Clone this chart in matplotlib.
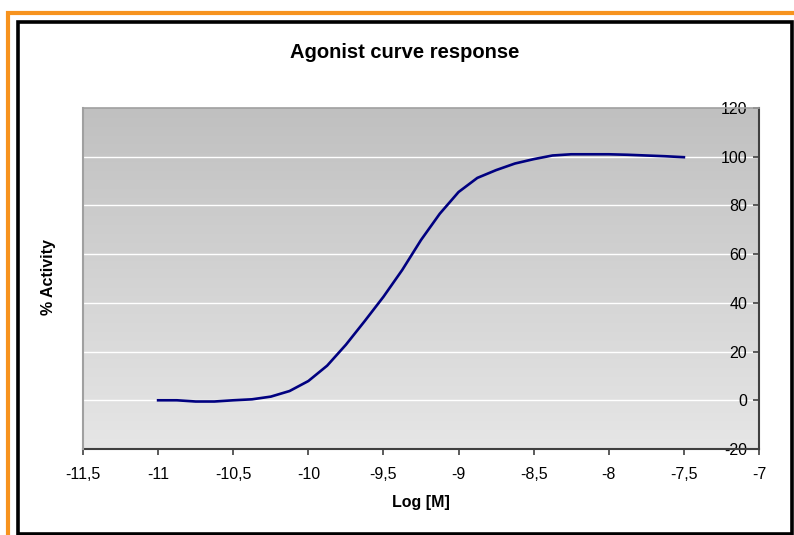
import matplotlib
matplotlib.use("Agg")
from matplotlib import pyplot as plt
from matplotlib.patches import Rectangle
import numpy as np

plt.rcParams['font.family'] = ['Liberation Sans', 'DejaVu Sans']

# data
log_m = [-11.0, -10.875, -10.75, -10.625, -10.5, -10.375, -10.25, -10.125, -10.0,
         -9.875, -9.75, -9.625, -9.5, -9.375, -9.25, -9.125, -9.0, -8.875, -8.75,
         -8.625, -8.5, -8.375, -8.25, -8.125, -8.0, -7.875, -7.75, -7.625, -7.5]
activity = [0.0, 0.0, -0.5, -0.5, 0.0, 0.4, 1.5, 3.8, 7.9,
            14.2, 22.8, 32.5, 42.5, 53.5, 65.8, 76.6, 85.5, 91.3, 94.5,
            97.2, 99.0, 100.5, 101.0, 101.0, 101.0, 100.8, 100.5, 100.2, 99.8]

x_ticks = [-11.5, -11, -10.5, -10, -9.5, -9, -8.5, -8, -7.5, -7]
x_labels = ['-11,5', '-11', '-10,5', '-10', '-9,5', '-9', '-8,5', '-8', '-7,5', '-7']
y_ticks = [-20, 0, 20, 40, 60, 80, 100, 120]
y_labels = ['-20', '0', '20', '40', '60', '80', '100', '120']

W, H = 794, 535
fig = plt.figure(figsize=(W / 100, H / 100), dpi=100)

# outer orange and inner black frames (pixel coords -> figure fraction)
def px_rect(x0, y0, x1, y1, color, lw):
    r = Rectangle((x0 / W, 1 - y1 / H), (x1 - x0) / W, (y1 - y0) / H,
                  transform=fig.transFigure, fill=False, edgecolor=color,
                  linewidth=lw, clip_on=False)
    fig.patches.append(r)

px_rect(8, 12.5, 820, 560, '#f7931e', 3.0)
px_rect(18, 22, 792, 533.5, 'black', 2.6)

left, right, top, bottom = 83, 759, 108, 449
ax = fig.add_axes([left / W, 1 - bottom / H, (right - left) / W, (bottom - top) / H])

# gray gradient background, darker at the top
grad = np.linspace(0, 1, 256).reshape(-1, 1)
cmap = matplotlib.colors.LinearSegmentedColormap.from_list('bg', ['#c0c0c0', '#e6e6e6'])
ax.imshow(grad, cmap=cmap, aspect='auto', extent=[-11.5, -7, -20, 120], zorder=0)

for y in y_ticks[1:-1]:
    ax.axhline(y, color='white', lw=1.0, zorder=1)

ax.plot(log_m, activity, color='#000080', lw=1.9, zorder=3)

ax.set_xlim(-11.5, -7)
ax.set_ylim(-20, 120)

ax.set_xticks(x_ticks)
ax.set_xticklabels(x_labels)
ax.set_yticks(y_ticks)
ax.set_yticklabels(y_labels)

# y axis sits at x = -7 with labels on its left side
ax.spines['left'].set_position(('data', -7))
ax.spines['left'].set_color('#404040')
ax.spines['left'].set_linewidth(1.5)
ax.spines['bottom'].set_color('#404040')
ax.spines['bottom'].set_linewidth(1.5)
ax.spines['right'].set_visible(False)
ax.spines['top'].set_color('#a0a0a0')
ax.spines['top'].set_linewidth(1.2)
ax.axvline(-11.5, color='#a0a0a0', lw=1.5, zorder=4, clip_on=False)

ax.tick_params(axis='x', direction='out', length=4, width=1.2, color='#404040',
               labelsize=11.5, pad=9)
ax.tick_params(axis='y', direction='out', length=4.5, width=1.2, color='#404040',
               labelsize=11.5, pad=4)

fig.text(405 / W, 1 - 52 / H, 'Agonist curve response', ha='center', va='center',
         fontsize=14.5, fontweight='bold')
fig.text(421 / W, 1 - 503 / H, 'Log [M]', ha='center', va='center',
         fontsize=11.5, fontweight='bold')
fig.text(48 / W, 1 - 277 / H, '% Activity', ha='center', va='center',
         fontsize=11.5, fontweight='bold', rotation=90)

plt.savefig('out.png', dpi=100)
